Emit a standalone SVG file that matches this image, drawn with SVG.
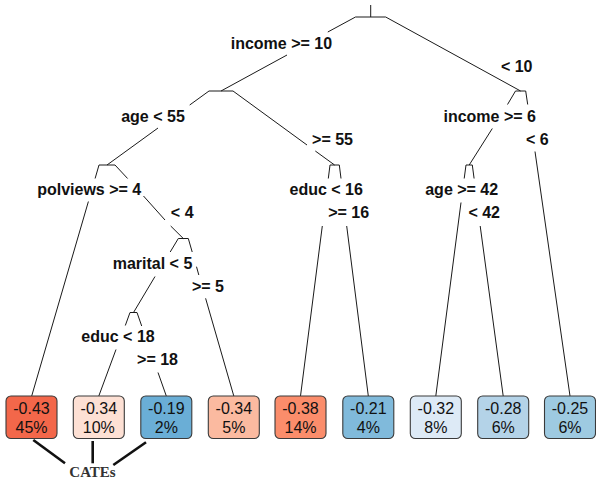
<svg xmlns="http://www.w3.org/2000/svg" width="596" height="481" viewBox="0 0 596 481">
<style>
  .br { stroke: #1a1a1a; stroke-width: 1; fill: none; stroke-linecap: butt; }
  .bar { stroke: #1a1a1a; stroke-width: 1; fill: none; }
  .lab { font-family: "Liberation Sans", Arial, sans-serif; font-weight: bold; font-size: 16px; fill: #111; text-anchor: middle; }
  .leaf rect { stroke: #3a3a3a; stroke-width: 1.1; }
  .val { font-family: "Liberation Sans", Arial, sans-serif; font-size: 16px; fill: #111; text-anchor: middle; }
  .ptr { stroke: #111; stroke-width: 2.6; fill: none; }
  .cate { font-family: "Liberation Serif", "Times New Roman", serif; font-weight: bold; font-size: 15px; fill: #333; text-anchor: middle; }
</style>
<rect width="596" height="481" fill="#fff"/>

<g id="connectors">
  <!-- root left -->
  <line class="br" x1="355.5" y1="17" x2="327.8" y2="32"/>
  <line class="br" x1="287" y1="55" x2="221" y2="91"/>
  <!-- root right -->
  <line class="br" x1="385.7" y1="17" x2="520.6" y2="91"/>
  <!-- A left -->
  <line class="br" x1="209" y1="91" x2="189.7" y2="105"/>
  <line class="br" x1="158" y1="128" x2="107" y2="165"/>
  <!-- A right -->
  <line class="br" x1="233" y1="91" x2="307" y2="145"/>
  <line class="br" x1="315.3" y1="151" x2="334.6" y2="165"/>
  <!-- B left -->
  <line class="br" x1="99" y1="165" x2="95.1" y2="178.5"/>
  <line class="br" x1="88.4" y1="201.5" x2="31.7" y2="396"/>
  <!-- B right -->
  <line class="br" x1="115" y1="165" x2="127.6" y2="178.5"/>
  <line class="br" x1="143.5" y1="196" x2="165" y2="220"/>
  <line class="br" x1="170.7" y1="226" x2="183.3" y2="238.5"/>
  <!-- C left -->
  <line class="br" x1="178.3" y1="238.5" x2="170.2" y2="252"/>
  <line class="br" x1="155" y1="276.5" x2="133.5" y2="312.5"/>
  <!-- C right -->
  <line class="br" x1="188.3" y1="238.5" x2="192.2" y2="252"/>
  <line class="br" x1="196.5" y1="266.7" x2="198.8" y2="275"/>
  <line class="br" x1="205.6" y1="298.3" x2="233.8" y2="396"/>
  <!-- D left -->
  <line class="br" x1="130" y1="312.5" x2="125.3" y2="325.5"/>
  <line class="br" x1="116" y1="349.5" x2="98.8" y2="396"/>
  <!-- D right -->
  <line class="br" x1="137" y1="312.5" x2="141.7" y2="326"/>
  <line class="br" x1="158" y1="372.5" x2="166.3" y2="396"/>
  <!-- E left -->
  <line class="br" x1="330" y1="165" x2="328.3" y2="178.5"/>
  <line class="br" x1="322.3" y1="226" x2="300.5" y2="396"/>
  <!-- E right -->
  <line class="br" x1="339.3" y1="165" x2="341" y2="178.5"/>
  <line class="br" x1="346.7" y1="226" x2="368.3" y2="396"/>
  <!-- F left -->
  <line class="br" x1="515.5" y1="91" x2="507.5" y2="104.5"/>
  <line class="br" x1="492.3" y1="128.5" x2="469.2" y2="165"/>
  <!-- F right -->
  <line class="br" x1="525.7" y1="91" x2="527.7" y2="104.5"/>
  <line class="br" x1="535" y1="151.5" x2="570" y2="396"/>
  <!-- G left -->
  <line class="br" x1="466" y1="165" x2="464.2" y2="178.5"/>
  <line class="br" x1="461" y1="202.5" x2="435.8" y2="396"/>
  <!-- G right -->
  <line class="br" x1="472.3" y1="165" x2="474.1" y2="178.5"/>
  <line class="br" x1="480.2" y1="226" x2="503.2" y2="396"/>
</g>

<g id="root">
  <line class="bar" x1="370.7" y1="5" x2="370.7" y2="17"/>
  <line class="bar" x1="355.5" y1="17" x2="385.7" y2="17"/>
  <text class="lab" x="281.4" y="48.5">income &gt;= 10</text>
  <text class="lab" x="516.7" y="71.5">&lt; 10</text>
</g>
<g id="node-age55">
  <line class="bar" x1="209" y1="91" x2="233" y2="91"/>
  <text class="lab" x="153" y="121.5">age &lt; 55</text>
  <text class="lab" x="332.5" y="144.5">&gt;= 55</text>
</g>
<g id="node-income6">
  <line class="bar" x1="515.5" y1="91" x2="525.7" y2="91"/>
  <text class="lab" x="489.7" y="121.5">income &gt;= 6</text>
  <text class="lab" x="537.3" y="144.5">&lt; 6</text>
</g>
<g id="node-polviews">
  <line class="bar" x1="99" y1="165" x2="115" y2="165"/>
  <text class="lab" x="89.2" y="195">polviews &gt;= 4</text>
  <text class="lab" x="182.2" y="218">&lt; 4</text>
</g>
<g id="node-educ16">
  <line class="bar" x1="330" y1="165" x2="339.3" y2="165"/>
  <text class="lab" x="326.2" y="195">educ &lt; 16</text>
  <text class="lab" x="348.7" y="218">&gt;= 16</text>
</g>
<g id="node-age42">
  <line class="bar" x1="466" y1="165" x2="472.3" y2="165"/>
  <text class="lab" x="461.7" y="195">age &gt;= 42</text>
  <text class="lab" x="484.2" y="218">&lt; 42</text>
</g>
<g id="node-marital">
  <line class="bar" x1="178.3" y1="238.5" x2="188.3" y2="238.5"/>
  <text class="lab" x="152.5" y="268.5">marital &lt; 5</text>
  <text class="lab" x="208" y="291.5">&gt;= 5</text>
</g>
<g id="node-educ18">
  <line class="bar" x1="130" y1="312.5" x2="137" y2="312.5"/>
  <text class="lab" x="118" y="342">educ &lt; 18</text>
  <text class="lab" x="157.5" y="365">&gt;= 18</text>
</g>

<g id="leaf1" class="leaf"><rect x="6" y="396" width="51" height="42.5" rx="5" fill="#F3674A"/><text class="val" x="31.5" y="413.5">-0.43</text><text class="val" x="31.5" y="433.3">45%</text></g>
<g id="leaf2" class="leaf"><rect x="73.3" y="396" width="51" height="42.5" rx="5" fill="#FDE0D4"/><text class="val" x="98.8" y="413.5">-0.34</text><text class="val" x="98.8" y="433.3">10%</text></g>
<g id="leaf3" class="leaf"><rect x="140.8" y="396" width="51" height="42.5" rx="5" fill="#6AAED6"/><text class="val" x="166.3" y="413.5">-0.19</text><text class="val" x="166.3" y="433.3">2%</text></g>
<g id="leaf4" class="leaf"><rect x="208.3" y="396" width="51" height="42.5" rx="5" fill="#FBBAA0"/><text class="val" x="233.8" y="413.5">-0.34</text><text class="val" x="233.8" y="433.3">5%</text></g>
<g id="leaf5" class="leaf"><rect x="275" y="396" width="51" height="42.5" rx="5" fill="#FB8D6B"/><text class="val" x="300.5" y="413.5">-0.38</text><text class="val" x="300.5" y="433.3">14%</text></g>
<g id="leaf6" class="leaf"><rect x="342.8" y="396" width="51" height="42.5" rx="5" fill="#80BADB"/><text class="val" x="368.3" y="413.5">-0.21</text><text class="val" x="368.3" y="433.3">4%</text></g>
<g id="leaf7" class="leaf"><rect x="410.3" y="396" width="51" height="42.5" rx="5" fill="#DDEAF6"/><text class="val" x="435.8" y="413.5">-0.32</text><text class="val" x="435.8" y="433.3">8%</text></g>
<g id="leaf8" class="leaf"><rect x="477.7" y="396" width="51" height="42.5" rx="5" fill="#B4D3E8"/><text class="val" x="503.2" y="413.5">-0.28</text><text class="val" x="503.2" y="433.3">6%</text></g>
<g id="leaf9" class="leaf"><rect x="544.5" y="396" width="51" height="42.5" rx="5" fill="#9ECAE1"/><text class="val" x="570" y="413.5">-0.25</text><text class="val" x="570" y="433.3">6%</text></g>

<g id="cates">
  <line class="ptr" x1="33.3" y1="440" x2="65" y2="463.3"/>
  <line class="ptr" x1="92.7" y1="441" x2="92.7" y2="463.3"/>
  <line class="ptr" x1="146" y1="442.3" x2="113.3" y2="465"/>
  <text class="cate" x="92.5" y="477">CATEs</text>
</g>
</svg>
